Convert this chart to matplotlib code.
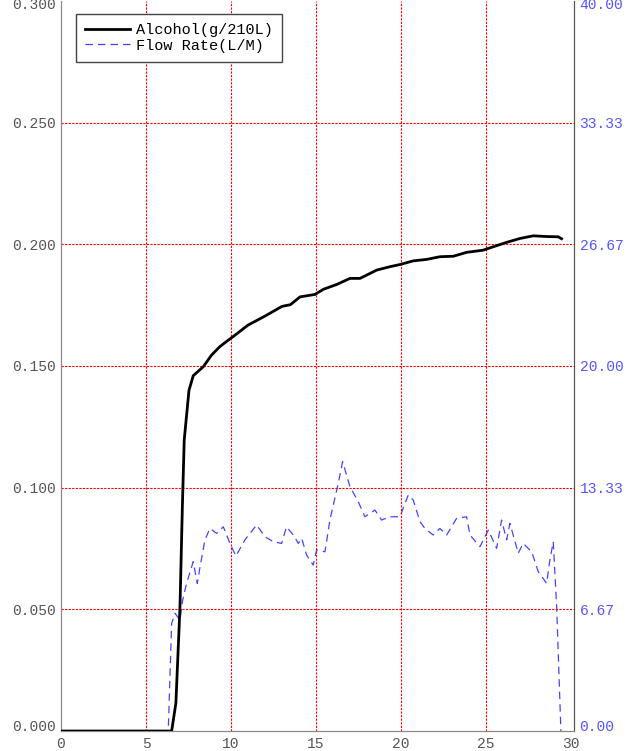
import matplotlib
matplotlib.use("Agg")
import matplotlib.pyplot as plt
import matplotlib.transforms as mtransforms
import numpy as np

# Alcohol (g/210L), left axis
alc_t = [0.0, 6.51, 6.76, 7.0, 7.14, 7.25, 7.53, 7.78, 8.37, 8.86, 9.35, 9.84, 10.3, 11.0,
         12.0, 13.0, 13.5, 14.06, 14.94, 15.43, 16.22, 17.0, 17.59, 18.57, 19.35, 19.94,
         20.72, 21.51, 22.29, 23.08, 23.86, 24.84, 25.43, 26.31, 27.0, 27.78, 28.57,
         29.25, 29.45]
alc_v = [0.0, 0.0, 0.0115, 0.051, 0.092, 0.1196, 0.140, 0.146, 0.1497, 0.1545, 0.158,
         0.1606, 0.163, 0.1668, 0.1705, 0.1745, 0.1752, 0.1784, 0.1794, 0.1815, 0.1835,
         0.186, 0.186, 0.1894, 0.1908, 0.1917, 0.1932, 0.1938, 0.1949, 0.1951, 0.1967,
         0.1976, 0.199, 0.201, 0.2024, 0.2035, 0.2032, 0.2031, 0.2023]

# Flow rate (L/M), right axis
flow_t = [0.0, 6.31, 6.51, 6.71, 7.0, 7.16, 7.39, 7.78, 8.02, 8.18, 8.47, 8.76, 9.16,
          9.55, 9.94, 10.29, 10.82, 11.51, 12.0, 12.49, 12.98, 13.27, 13.67, 13.96, 14.16,
          14.45, 14.84, 15.04, 15.53, 15.82, 16.31, 16.57, 17.0, 17.49, 17.88, 18.47,
          18.86, 19.35, 19.94, 20.43, 20.72, 21.12, 21.41, 21.9, 22.29, 22.69, 23.27,
          23.86, 24.06, 24.65, 25.14, 25.63, 25.92, 26.22, 26.41, 26.9, 27.19, 27.69,
          28.08, 28.57, 28.76, 28.96, 29.16, 29.41]
flow_v = [0.0, 0.0, 5.9, 6.45, 6.08, 7.18, 8.09, 9.28, 8.09, 9.0, 10.47, 11.1, 10.83,
          11.19, 10.28, 9.59, 10.47, 11.29, 10.65, 10.37, 10.28, 11.19, 10.74, 10.28, 10.56,
          9.64, 9.09, 9.92, 9.82, 11.56, 13.57, 14.76, 13.39, 12.56, 11.74, 12.11, 11.56,
          11.74, 11.74, 12.93, 12.66, 11.47, 11.1, 10.74, 11.1, 10.74, 11.65, 11.74, 10.74,
          10.1, 11.01, 10.01, 11.56, 10.47, 11.38, 9.74, 10.28, 9.82, 8.73, 8.09, 9.37,
          10.37, 6.81, 0.0]

left_ticks = [0.0, 0.05, 0.10, 0.15, 0.20, 0.25, 0.30]
right_ticks = [0.0, 40 / 6, 80 / 6, 20.0, 160 / 6, 200 / 6, 40.0]
x_ticks = [0, 5, 10, 15, 20, 25, 30]

plt.rcParams['font.family'] = ['Liberation Mono', 'DejaVu Sans Mono']

fig = plt.figure(figsize=(6.3, 7.51), dpi=100)
ax = fig.add_axes([0.0968, 0.0266, 0.8143, 0.9721])
ax2 = ax.twinx()

grid_style = dict(color='red', linestyle=(0, (2, 1.2)), linewidth=0.8)
for gx in x_ticks[1:-1]:
    ax.axvline(gx, zorder=0, **grid_style)
for gy in left_ticks[1:-1]:
    ax.axhline(gy, zorder=0, **grid_style)

la, = ax.plot(alc_t, alc_v, color='black', linewidth=2.0, zorder=3)
lf, = ax2.plot(flow_t, flow_v, color='#4444ff', linewidth=0.9, linestyle=(0, (6, 4)))

ax.set_xlim(0, 30.18)
ax.set_ylim(0, 0.3)
ax2.set_ylim(0, 40)
ax.set_xticks(x_ticks)
ax.set_yticks(left_ticks)
ax.set_yticklabels(['%.3f' % v for v in left_ticks])
ax2.set_yticks(right_ticks)
ax2.set_yticklabels(['%.2f' % v for v in right_ticks])

ax.tick_params(length=0, labelsize=10.5, labelcolor='#555555', pad=4)
ax.tick_params(axis='x', pad=4)
ax2.tick_params(length=0, labelsize=10.5, labelcolor='#5555ff', pad=4)

# end labels are kept inside the figure: bottom one sits on the axis, top one drops a bit
for a in (ax, ax2):
    labels = a.get_yticklabels()
    labels[0].set_verticalalignment('baseline')
    top = labels[-1]
    top.set_transform(top.get_transform() +
                      mtransforms.ScaledTranslation(0, -3 / 100, fig.dpi_scale_trans))

for a in (ax, ax2):
    a.spines['top'].set_visible(False)
    a.spines['left'].set_color('#888888')
    a.spines['bottom'].set_color('#888888')
    a.spines['right'].set_color('#555555')

ax2.set_zorder(ax.get_zorder() - 1)
ax.patch.set_visible(False)

leg = ax.legend([la, lf], ['Alcohol(g/210L)', 'Flow Rate(L/M)'], loc='upper left',
                bbox_to_anchor=(0.029, 0.982), borderaxespad=0, fancybox=False,
                framealpha=1, edgecolor='#444444', fontsize=11, handlelength=2.95,
                borderpad=0.6, labelspacing=0.1, handletextpad=0.4)
leg.get_frame().set_linewidth(1.0)

fig.savefig('out.png', dpi=100)
